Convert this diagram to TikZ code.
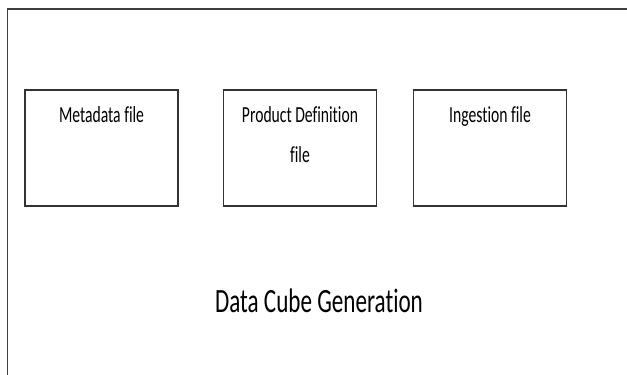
\documentclass[tikz,border=0pt]{standalone}
\usepackage{fontspec}
\setmainfont{Carlito}[Ligatures=NoCommon]
\usetikzlibrary{positioning}
\newcommand{\squeeze}[1]{\scalebox{0.68}[1]{#1}}
\tikzset{
  filebox/.style={draw=black!80, line width=1.5pt, minimum width=153pt, minimum height=116pt, inner sep=0pt},
  filetext/.style={font=\fontsize{23}{40}\selectfont, inner sep=0pt}
}
\begin{document}
\begin{tikzpicture}[x=1pt,y=-1pt]

          \clip (0,0) rectangle (627,375);
          \fill[white] (0,0) rectangle (627,375);

          \coordinate (cornerBL) at (7.5,390);
          \coordinate (cornerTL) at (7.5,9);
          \coordinate (cornerTR) at (640,9);
          \draw[black!75, line width=1.8pt] (cornerBL) -- (cornerTL) -- (cornerTR);

          \node[filebox] (meta) at (101.5,148) {};
          \node[filebox] (prod) at (300,148) {};
          \node[filebox] (ingest) at (490,148) {};

          \node[filetext, below=33pt of meta.north, anchor=base] (metaText) {\squeeze{Metadata file}};
          \node[filetext, below=33pt of prod.north, anchor=base] (prodText) {\squeeze{\begin{tabular}[t]{@{}c@{}}Product Definition\\file\end{tabular}}};
          \node[filetext, below=33pt of ingest.north, anchor=base] (ingestText) {\squeeze{Ingestion file}};

          \node[anchor=base, inner sep=0pt, font=\fontsize{34}{40}\selectfont] (title) at (319,312) {\squeeze{Data Cube Generation}};
        \end{tikzpicture}
\end{document}
